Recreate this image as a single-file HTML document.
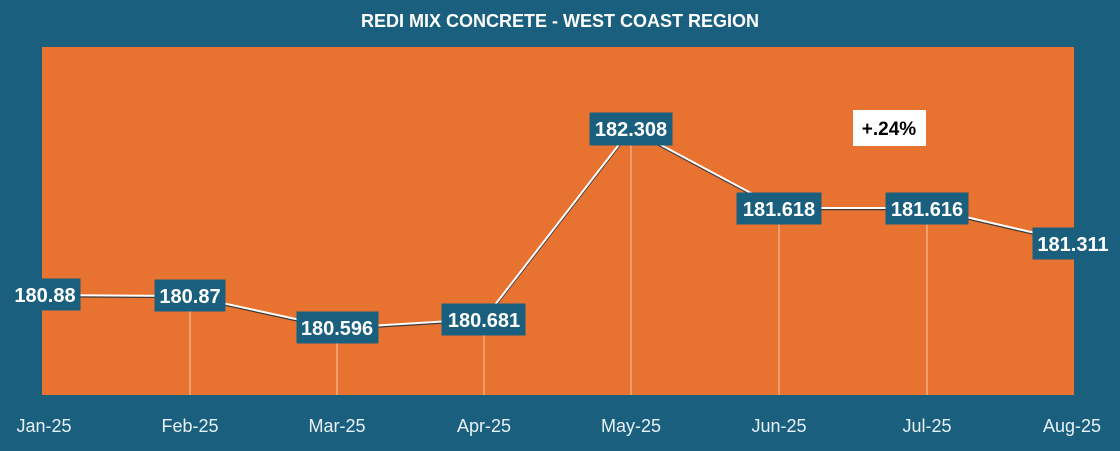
<!DOCTYPE html>
<html><head><style>
body{margin:0;width:1120px;height:446px;overflow:hidden;background:#1a5f7e;font-family:"Liberation Sans",sans-serif}
</style></head><body>
<svg width="1120" height="446" xmlns="http://www.w3.org/2000/svg">
<rect x="0" y="0" width="1120" height="446" fill="#1a5f7e"/>
<rect x="42" y="47" width="1032" height="348" fill="#e87230"/>
<text x="560" y="27" text-anchor="middle" font-family="Liberation Sans, sans-serif" font-weight="bold" font-size="18" fill="#fff">REDI MIX CONCRETE - WEST COAST REGION</text>
<g stroke="#f6c9a8" stroke-width="1">
<line x1="190" y1="296" x2="190" y2="395"/><line x1="337" y1="328" x2="337" y2="395"/>
<line x1="484" y1="319" x2="484" y2="395"/><line x1="631" y1="129" x2="631" y2="395"/>
<line x1="779" y1="208" x2="779" y2="395"/><line x1="927" y1="208" x2="927" y2="395"/>
</g>
<polyline points="42,296 190,297 337,329 484,320 631,130 779,209 927,209 1074,243" fill="none" stroke="#3a3a3a" stroke-width="2.5"/>
<polyline points="42,295 190,296 337,328 484,319 631,129 779,208 927,208 1074,242" fill="none" stroke="#fff" stroke-width="2"/>
<g fill="#1a5f7e" stroke="#1a5f7e">
<rect x="10" y="279" width="70" height="31"/><rect x="155" y="280" width="70" height="31"/>
<rect x="297" y="312" width="81" height="31"/><rect x="442" y="304" width="83" height="31"/>
<rect x="590" y="113" width="82" height="32"/><rect x="737" y="193" width="84" height="31"/>
<rect x="886" y="193" width="82" height="31"/><rect x="1033" y="228" width="80" height="31"/>
</g>
<g font-family="Liberation Sans, sans-serif" font-weight="bold" font-size="20" fill="#fff" text-anchor="middle">
<text x="45" y="302">180.88</text><text x="190" y="303">180.87</text>
<text x="337" y="335">180.596</text><text x="484" y="327">180.681</text>
<text x="631" y="136">182.308</text><text x="779" y="216">181.618</text>
<text x="927" y="216">181.616</text><text x="1073" y="251">181.311</text>
</g>
<rect x="853" y="110" width="73" height="36" fill="#fff"/>
<text x="889" y="135" text-anchor="middle" font-family="Liberation Sans, sans-serif" font-weight="bold" font-size="19" fill="#000">+.24%</text>
<g font-family="Liberation Sans, sans-serif" font-size="18" fill="#e8f2f6" text-anchor="middle">
<text x="44" y="432">Jan-25</text><text x="190" y="432">Feb-25</text><text x="337" y="432">Mar-25</text>
<text x="484" y="432">Apr-25</text><text x="631" y="432">May-25</text><text x="779" y="432">Jun-25</text>
<text x="927" y="432">Jul-25</text><text x="1072" y="432">Aug-25</text>
</g>
</svg>
</body></html>
